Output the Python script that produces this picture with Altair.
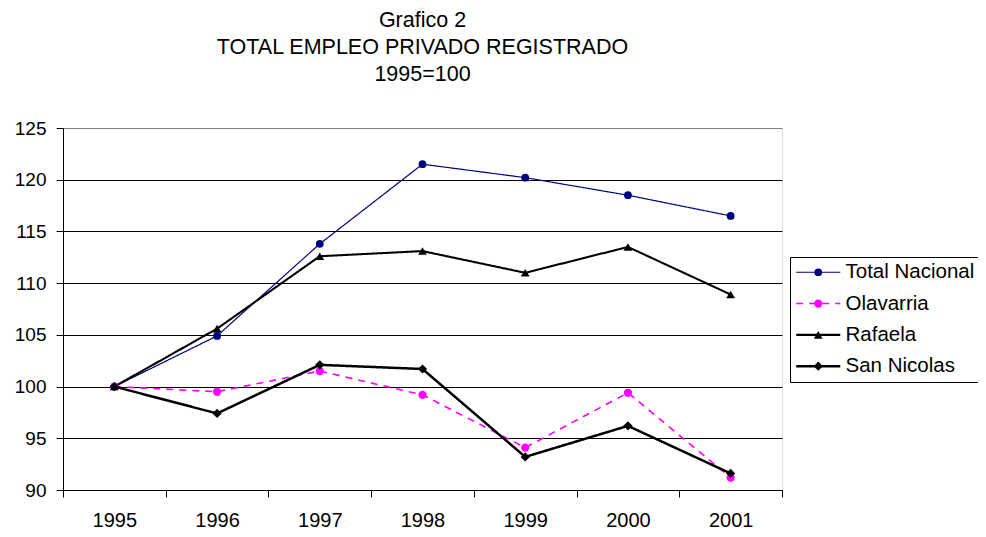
import altair as alt
import pandas as pd

years = ["1995", "1996", "1997", "1998", "1999", "2000", "2001"]
series = ["Total Nacional", "Olavarria", "Rafaela", "San Nicolas"]
total_nacional = [100, 104.9, 113.8, 121.5, 120.2, 118.5, 116.5]
olavarria = [100, 99.5, 101.5, 99.2, 94.1, 99.4, 91.2]
rafaela = [100, 105.6, 112.6, 113.1, 111.0, 113.5, 108.9]
san_nicolas = [100, 97.4, 102.1, 101.7, 93.2, 96.2, 91.6]
y_ticks = [90, 95, 100, 105, 110, 115, 120, 125]

colors = ["#000080", "#FF00FF", "#000000", "#000000"]
dashes = [[1, 0], [7, 6], [1, 0], [1, 0]]
widths = [1.2, 2.5, 1, 2.5]
shapes = ["circle", "circle", "triangle-up", "diamond"]
sizes = [60, 85, 115, 70]

rows = []
for name, vals in zip(series, [total_nacional, olavarria, rafaela, san_nicolas]):
    for yr, v in zip(years, vals):
        rows.append({"anio": yr, "valor": v, "serie": name, "serie2": name})
df = pd.DataFrame(rows)

FONT = "Liberation Sans, Arial"

x_enc = alt.X(
    "anio:O",
    scale=alt.Scale(type="band", paddingInner=0, paddingOuter=0),
    bandPosition=0.5,
    axis=alt.Axis(
        title=None, labelAngle=0, tickBand="extent", domainColor="black",
        tickColor="black", tickSize=7, labelPadding=13, labelFontSize=20,
        labelFont=FONT, labelColor="black", grid=False,
    ),
)
y_enc = alt.Y(
    "valor:Q",
    scale=alt.Scale(domain=[90, 125], nice=False, zero=False),
    axis=alt.Axis(
        title=None, values=y_ticks, domainColor="black", tickColor="black",
        tickSize=7, labelPadding=10, labelFontSize=19, labelFont=FONT,
        labelColor="black", grid=True,
        gridColor={"condition": {"test": "datum.value == 125", "value": "#808080"}, "value": "black"},
        gridWidth=1,
    ),
)

leg_common = dict(
    title=None, orient="none", legendX=727, legendY=129, labelFontSize=20.5,
    labelFont=FONT, labelColor="black", padding=5, rowPadding=10.3,
)
leg1 = alt.Legend(symbolType="M-4.2,0H4.2", symbolSize=110, symbolOffset=13,
                  labelOffset=17, strokeColor="black", **leg_common)
leg2 = alt.Legend(labelOpacity=0, symbolOffset=13, labelOffset=17, **leg_common)

lines = alt.Chart(df).mark_line().encode(
    x=x_enc,
    y=y_enc,
    color=alt.Color("serie:N", scale=alt.Scale(domain=series, range=colors), legend=leg1),
    strokeDash=alt.StrokeDash("serie:N", scale=alt.Scale(domain=series, range=dashes), legend=leg1),
    strokeWidth=alt.StrokeWidth("serie:N", scale=alt.Scale(domain=series, range=widths), legend=leg1),
)

points = alt.Chart(df).mark_point(filled=True, opacity=1).encode(
    x=x_enc,
    y=y_enc,
    color=alt.Color("serie2:N", scale=alt.Scale(domain=series, range=colors), legend=leg2),
    shape=alt.Shape("serie2:N", scale=alt.Scale(domain=series, range=shapes), legend=leg2),
    size=alt.Size("serie2:N", scale=alt.Scale(domain=series, range=sizes), legend=leg2),
)

chart = alt.layer(lines, points).resolve_scale(
    color="independent", shape="independent", size="independent",
    strokeDash="independent", strokeWidth="independent",
).properties(
    width=719,
    height=362,
    autosize=alt.AutoSizeParams(type="none"),
    padding={"left": 55, "top": 120, "right": 196, "bottom": 39},
    title=alt.TitleParams(
        text=["Grafico 2", "TOTAL EMPLEO PRIVADO REGISTRADO", "1995=100"],
        fontSize=21.5, font=FONT, fontWeight="normal", color="black",
        lineHeight=27, anchor="middle", offset=34,
    ),
).configure_view(stroke="#808080", strokeWidth=1).configure(background="white")

chart.save("out.html", embed_options={"renderer": "svg", "actions": False})
